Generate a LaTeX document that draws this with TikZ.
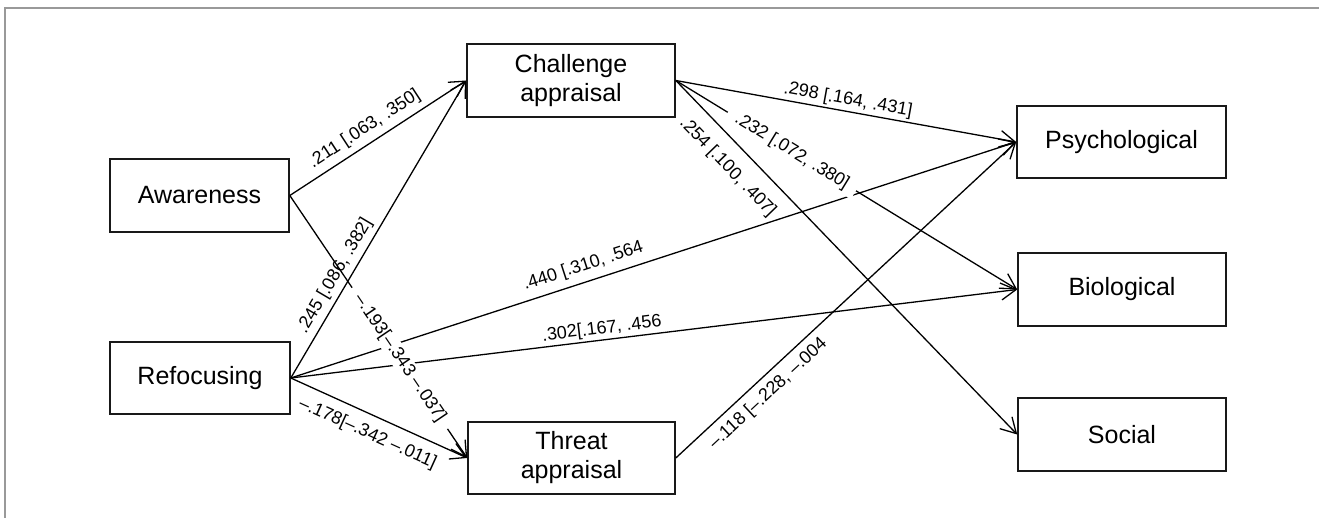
\documentclass[tikz,border=0pt]{standalone}
\usepackage{fontspec}
\setmainfont{Liberation Sans}
\usetikzlibrary{arrows.meta}
\begin{document}
\begin{tikzpicture}[x=1pt,y=-1pt,
  box/.style={draw=black!90, line width=1.6pt, rectangle, inner sep=0pt,
    font=\fontsize{25}{29}\selectfont, align=center},
  conn/.style={line width=1.3pt, line join=miter,
    -{Straight Barb[length=15pt,width=17pt,line width=1.3pt]}},
  lab/.style={font=\fontsize{18}{20}\selectfont, sloped, inner sep=1.5pt},
  labw/.style={lab, fill=white, inner xsep=10pt},
  frame/.style={draw=black!40, line width=1.5pt}
]
\useasboundingbox (0,0) rectangle (1319,518);
\draw[frame] (5,518) -- (5,8) -- (1319,8);

\node[box, minimum width=179pt, minimum height=73pt] (aw) at (199.5,195.5) {Awareness};
\node[box, minimum width=180pt, minimum height=72pt] (rf) at (200,378) {Refocusing};
\node[box, minimum width=208pt, minimum height=73pt] (ch) at (571,80.5) {Challenge\\appraisal};
\node[box, minimum width=207pt, minimum height=72pt] (th) at (571.5,458) {Threat\\appraisal};
\node[box, minimum width=209pt, minimum height=72pt] (ps) at (1121.5,142) {Psychological};
\node[box, minimum width=208pt, minimum height=73pt] (bi) at (1122,289.5) {Biological};
\node[box, minimum width=208pt, minimum height=73pt] (so) at (1122,434.5) {Social};

\draw[conn] (aw.east) -- node[lab, pos=0.47, above, outer sep=5pt] {.211 [.063, .350]} (ch.west);
\draw[conn] (rf.east) -- node[lab, pos=0.32, above, outer sep=4pt] {.245 [.086, .382]} (ch.west);
\draw[conn] (rf.east) -- node[lab, pos=0.41, above, outer sep=6pt] {.440 [.310, .564} (ps.west);
\draw[conn] (rf.east) -- node[lab, pos=0.43, above, outer sep=1pt] {.302[.167, .456} (bi.west);
\draw[conn] (rf.east) -- node[lab, pos=0.48, below, outer sep=9pt] {–.178[–.342 –.011]} (th.west);
\draw[conn] (ch.east) -- node[lab, pos=0.5, above, outer sep=1.5pt] {.298 [.164, .431]} (ps.west);
\draw[conn] (ch.east) -- node[lab, pos=0.2, below, outer sep=13pt] {.254 [.100, .407]} (so.west);
\draw[conn] (th.east) -- node[lab, pos=0.24, below, outer sep=6pt] {–.118 [–.228, –.004} (ps.west);
\draw[conn] (ch.east) -- node[labw, pos=0.34] {.232 [.072, .380]} (bi.west);
\draw[conn] (aw.east) -- node[labw, pos=0.62] {–.193[–.343 –.037]} (th.west);
\end{tikzpicture}
\end{document}
